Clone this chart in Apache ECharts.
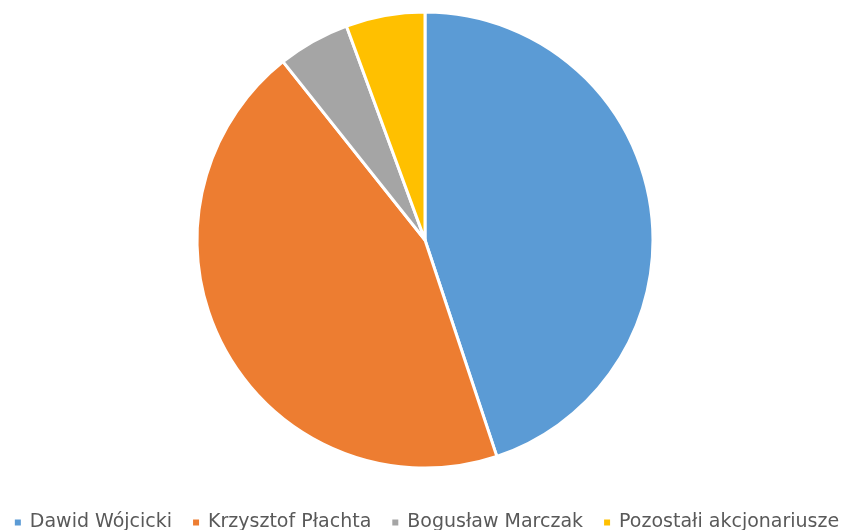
<!DOCTYPE html>
<html>
<head>
<meta charset="utf-8">
<script src="https://cdn.jsdelivr.net/npm/echarts@6/dist/echarts.min.js"></script>
<style>
  html, body { margin: 0; padding: 0; background: #fff; }
  #chart { width: 852px; height: 530px; }
</style>
</head>
<body>
<div id="chart"></div>
<script>
// udziały akcjonariuszy (%)
var names = ['Dawid Wójcicki', 'Krzysztof Płachta', 'Bogusław Marczak', 'Pozostałi akcjonariusze']
var values = [44.9, 44.4, 5.1, 5.6]
var colors = ['#5B9BD5', '#ED7D31', '#A5A5A5', '#FFC000']

var chart = echarts.init(document.getElementById('chart'))
var option = {
  animation: false,
  color: colors,
  legend: {
    data: names,
    top: 508,
    left: 'center',
    icon: 'rect',
    itemWidth: 8,
    itemHeight: 8,
    itemGap: 19,
    textStyle: {
      color: '#595959',
      fontSize: 19,
      fontFamily: 'DejaVu Sans',
      padding: [0, 0, 0, 3]
    }
  },
  series: [
    {
      type: 'pie',
      center: [425, 240],
      radius: 228,
      startAngle: 90,
      clockwise: true,
      label: { show: false },
      labelLine: { show: false },
      itemStyle: { borderColor: '#fff', borderWidth: 3 },
      data: names.map(function(n, i) {
        return { name: n, value: values[i] }
      })
    }
  ]
}
chart.setOption(option)
</script>
</body>
</html>
